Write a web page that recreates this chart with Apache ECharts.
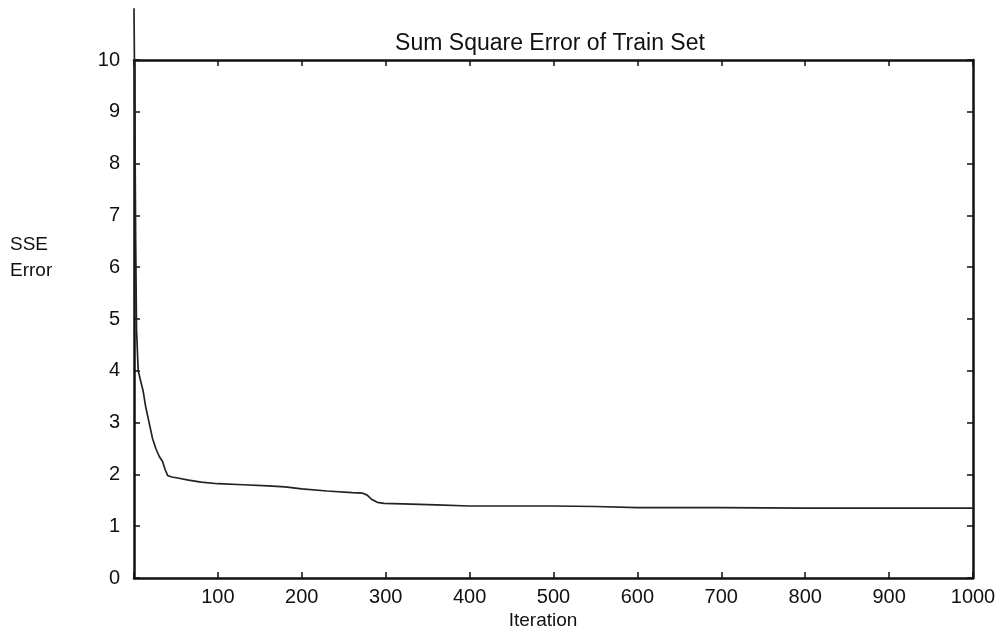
<!DOCTYPE html>
<html><head><meta charset="utf-8">
<script src="https://cdn.jsdelivr.net/npm/echarts@6/dist/echarts.min.js"></script>
<style>html,body{margin:0;padding:0;background:#fff;overflow:hidden}#c{width:1001px;height:632px}</style>
</head><body><div id="c"></div>
<script>
const iterations = [0, 1, 2, 3, 5, 8, 11, 14, 18, 22, 26, 30, 34, 37, 40, 45, 52, 65, 80, 100, 130, 160, 180, 200, 230, 260, 272, 278, 283, 290, 298, 320, 360, 400, 450, 500, 550, 600, 700, 800, 900, 1000];
const sseValues = [11.0, 9.0, 6.5, 4.8, 4.0, 3.8, 3.6, 3.3, 3.0, 2.7, 2.5, 2.35, 2.25, 2.1, 1.98, 1.95, 1.93, 1.89, 1.85, 1.82, 1.80, 1.78, 1.76, 1.72, 1.68, 1.65, 1.64, 1.60, 1.52, 1.46, 1.44, 1.43, 1.41, 1.39, 1.39, 1.39, 1.38, 1.36, 1.36, 1.35, 1.35, 1.35];
const xTicks = [100, 200, 300, 400, 500, 600, 700, 800, 900, 1000];
const yTicks = [0, 1, 2, 3, 4, 5, 6, 7, 8, 9, 10];
const titleText = 'Sum Square Error of Train Set';
const xName = 'Iteration';
const yName = 'SSE\nError';

const font = '"Liberation Sans", Arial, sans-serif';
const chart = echarts.init(document.getElementById('c'), null, {renderer: 'canvas', width: 1001, height: 632});
const axisCommon = {
  axisLine: {show: true, onZero: false, lineStyle: {color: '#111', width: 2.5}},
  axisTick: {show: true, inside: true, length: 6, lineStyle: {color: '#111', width: 1.5}},
  splitLine: {show: false}
};
chart.setOption({
  backgroundColor: '#fff',
  animation: false,
  title: {text: titleText, left: 545, top: 27, textAlign: 'center',
    textStyle: {fontFamily: font, fontSize: 23, fontWeight: 'normal', color: '#111'}},
  grid: {left: 134, width: 839, top: 60, height: 518, show: false},
  xAxis: [
    Object.assign({type: 'value', min: 0, max: 1000, interval: 100, position: 'bottom',
      axisLabel: {fontFamily: font, fontSize: 20, color: '#111', margin: 9,
        formatter: v => xTicks.includes(v) ? String(v) : ''}}, axisCommon),
    Object.assign({type: 'value', min: 0, max: 1000, interval: 100, position: 'top',
      axisLabel: {show: false}}, axisCommon)
  ],
  yAxis: [
    Object.assign({type: 'value', min: 0, max: 10, interval: 1, position: 'left',
      axisLabel: {fontFamily: font, fontSize: 20, color: '#111', margin: 14,
        formatter: v => yTicks.includes(v) ? String(v) : ''}}, axisCommon),
    Object.assign({type: 'value', min: 0, max: 10, interval: 1, position: 'right',
      axisLabel: {show: false}}, axisCommon)
  ],
  graphic: [
    {type: 'text', left: 10, top: 232,
      style: {text: yName, font: '19px ' + font, fill: '#111', lineHeight: 26}},
    {type: 'text', x: 543, y: 621,
      style: {text: xName, font: '19px ' + font, fill: '#111', align: 'center', verticalAlign: 'middle'}}
  ],
  series: [{
    type: 'line', xAxisIndex: 0, yAxisIndex: 0,
    data: iterations.map((x, i) => [x, sseValues[i]]),
    showSymbol: false, clip: false, smooth: false,
    lineStyle: {color: '#222', width: 1.7}
  }]
});
</script></body></html>
